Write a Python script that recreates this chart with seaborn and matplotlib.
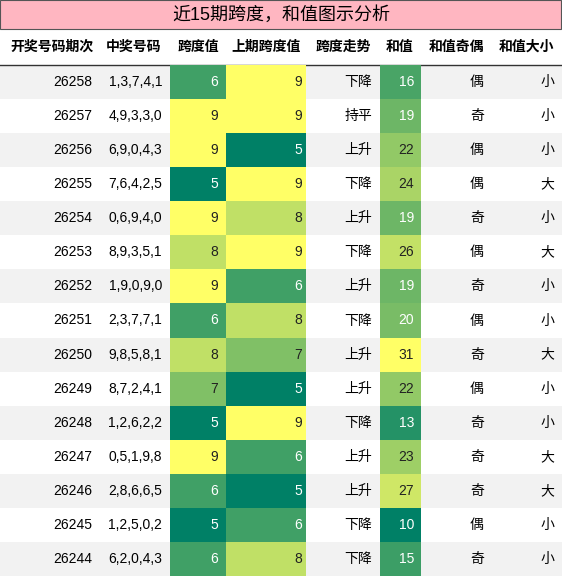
import numpy as np
import seaborn as sns
import matplotlib.pyplot as plt

periods = ["26258", "26257", "26256", "26255", "26254", "26253", "26252", "26251",
           "26250", "26249", "26248", "26247", "26246", "26245", "26244"]
numbers = ["1,3,7,4,1", "4,9,3,3,0", "6,9,0,4,3", "7,6,4,2,5", "0,6,9,4,0",
           "8,9,3,5,1", "1,9,0,9,0", "2,3,7,7,1", "9,8,5,8,1", "8,7,2,4,1",
           "1,2,6,2,2", "0,5,1,9,8", "2,8,6,6,5", "1,2,5,0,2", "6,2,0,4,3"]
span = [6, 9, 9, 5, 9, 8, 9, 6, 8, 7, 5, 9, 6, 5, 6]
prev_span = [9, 9, 5, 9, 8, 9, 6, 8, 7, 5, 9, 6, 5, 6, 8]
trend = ["下降", "持平", "上升", "下降", "上升", "下降", "上升", "下降",
         "上升", "上升", "下降", "上升", "上升", "下降", "下降"]
sums = [16, 19, 22, 24, 19, 26, 19, 20, 31, 22, 13, 23, 27, 10, 15]
parity = ["偶", "奇", "偶", "偶", "奇", "偶", "奇", "偶", "奇", "偶", "奇", "奇", "奇", "偶", "奇"]
size = ["小", "小", "小", "大", "小", "大", "小", "小", "大", "小", "小", "大", "大", "小", "小"]
headers = ["开奖号码期次", "中奖号码", "跨度值", "上期跨度值", "跨度走势", "和值", "和值奇偶", "和值大小"]

W, H = 562, 576
plt.rcParams['font.family'] = ['Liberation Sans', 'Noto Sans CJK SC']
fig = plt.figure(figsize=(W / 100, H / 100), dpi=100)

def rect(x0, y0, x1, y1):
    return [x0 / W, 1 - y1 / H, (x1 - x0) / W, (y1 - y0) / H]

top, rh = 65, (H - 65) / 15

# background stripes and title
bg = fig.add_axes([0, 0, 1, 1])
bg.set_xlim(0, W); bg.set_ylim(H, 0); bg.axis('off')
bg.add_patch(plt.Rectangle((0, 0), W - 1, 29, facecolor='#ffb6c1', edgecolor='#555555', lw=0.8))
for i in range(15):
    bg.add_patch(plt.Rectangle((0, top + i * rh), W, rh,
                               facecolor='#f2f2f2' if i % 2 == 0 else 'white', lw=0))
bg.plot([0, W], [top, top], color='#333333', lw=1)

# coloured columns
cols = [(170, 226, span, 5, 9), (226, 306, prev_span, 5, 9), (380, 421, sums, 10, 31)]
for x0, x1, vals, lo, hi in cols:
    ax = fig.add_axes(rect(x0, top, x1, H))
    sns.heatmap(np.array(vals).reshape(-1, 1), ax=ax, cmap='summer', vmin=lo, vmax=hi,
                cbar=False, xticklabels=False, yticklabels=False)
    ax.axis('off')

# text overlay
tx = fig.add_axes([0, 0, 1, 1])
tx.set_xlim(0, W); tx.set_ylim(H, 0); tx.axis('off'); tx.patch.set_alpha(0)
tx.text(W / 2, 15, "近15期跨度，和值图示分析", ha='center', va='center', fontsize=13)
hx = [52, 134, 198, 266, 343, 400, 456, 526]
for x, h in zip(hx, headers):
    tx.text(x, 47, h, ha='center', va='center', fontsize=10, fontweight='bold')

for i in range(15):
    y = top + (i + 0.5) * rh
    tx.text(92, y, periods[i], ha='right', va='center', fontsize=10)
    tx.text(162, y, numbers[i], ha='right', va='center', fontsize=10)
    for xr, v, lo, hi in [(218, span[i], 5, 9), (302, prev_span[i], 5, 9), (414, sums[i], 10, 31)]:
        frac = (v - lo) / (hi - lo)
        tx.text(xr, y, str(v), ha='right', va='center', fontsize=10,
                color='white' if frac < 0.5 else '#222222')
    tx.text(372, y, trend[i], ha='right', va='center', fontsize=10)
    tx.text(477, y, parity[i], ha='center', va='center', fontsize=10)
    tx.text(554, y, size[i], ha='right', va='center', fontsize=10)

fig.savefig('out.png', dpi=100)
